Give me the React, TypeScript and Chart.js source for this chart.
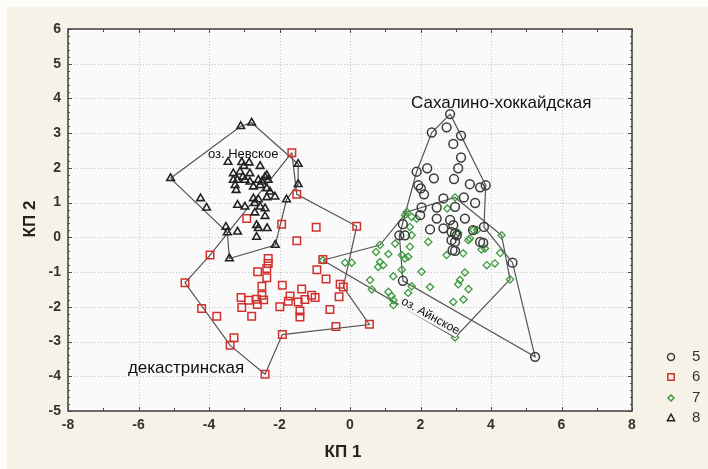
import React, { useEffect, useRef } from "react";
import { Chart, registerables } from "chart.js";

Chart.register(...registerables);

const FONT = "Arial, 'Liberation Sans', sans-serif";

// Group 5 (circles)
const group5: [number, number][] = [
  [2.84, 3.55], [2.74, 3.17], [2.32, 3.02], [3.15, 2.93], [2.93, 2.69], [3.15, 2.3],
  [1.89, 1.89], [2.19, 1.99], [3.07, 1.99], [2.38, 1.7], [2.95, 1.68], [1.94, 1.5],
  [2.01, 1.41], [3.4, 1.53], [3.69, 1.44], [3.85, 1.5], [2.1, 1.24], [2.65, 1.12],
  [3.23, 1.15], [3.55, 0.99], [2.03, 0.86], [2.46, 0.86], [2.98, 0.88], [1.99, 0.64],
  [2.46, 0.54], [2.84, 0.5], [3.26, 0.54], [1.5, 0.38], [2.27, 0.23], [2.65, 0.26],
  [2.93, 0.35], [2.88, 0.16], [2.98, 0.11], [3.8, 0.3], [1.4, 0.06], [1.56, 0.06],
  [2.88, -0.08], [2.98, -0.13], [3.69, -0.13], [3.78, -0.16], [2.91, -0.37], [2.98, -0.39],
  [3.49, 0.21], [3.03, 0.06], [4.61, -0.73], [1.5, -1.25], [5.25, -3.44],
];

// Group 6 (red squares)
const group6: [number, number][] = [
  [-1.65, 2.44], [-1.51, 1.24], [-2.93, 0.54], [-1.94, 0.38], [-0.96, 0.29], [0.19, 0.32],
  [-1.51, -0.1], [-3.97, -0.51], [-2.32, -0.61], [-2.32, -0.75], [-0.77, -0.64], [-0.94, -0.93],
  [-2.36, -0.9], [-2.62, -0.99], [-4.68, -1.31], [-2.36, -1.16], [-0.68, -1.2], [-1.92, -1.38],
  [-0.28, -1.35], [-0.19, -1.43], [-2.5, -1.41], [-1.37, -1.49], [-3.09, -1.73], [-2.88, -1.81],
  [-2.65, -1.78], [-2.5, -1.67], [-2.45, -1.8], [-1.7, -1.69], [-1.75, -1.84], [-1.47, -1.86],
  [-1.28, -1.79], [-1.09, -1.67], [-0.99, -1.73], [-0.31, -1.71], [-3.07, -2.02], [-2.63, -1.93],
  [-1.99, -2.0], [-1.42, -2.12], [-1.42, -2.29], [-0.57, -2.08], [-4.21, -2.05], [-3.78, -2.27],
  [-2.79, -2.27], [-0.4, -2.57], [0.55, -2.5], [-1.92, -2.8], [-3.29, -2.89], [-3.4, -3.11],
  [-2.41, -3.94],
];

// Group 7 (green diamonds)
const group7: [number, number][] = [
  [1.61, 0.73], [1.56, 0.64], [1.75, 0.59], [2.98, 1.15], [2.76, 0.83], [1.89, 0.54],
  [1.7, 0.3], [1.75, 0.06], [1.28, -0.18], [0.85, -0.22], [0.74, -0.42], [1.09, -0.48],
  [1.47, -0.51], [1.65, -0.56], [2.22, -0.13], [3.36, -0.08], [3.5, 0.21], [3.61, 0.21],
  [3.83, -0.32], [4.3, 0.06], [3.21, -0.46], [2.74, -0.51], [3.07, 0.13], [1.7, -0.27],
  [1.56, -0.61], [-0.14, -0.73], [0.05, -0.73], [0.85, -0.71], [0.94, -0.8], [0.8, -0.85],
  [1.47, -0.93], [1.23, -1.12], [2.03, -0.99], [0.57, -1.23], [0.62, -1.5], [1.09, -1.57],
  [1.18, -1.69], [1.23, -1.81], [1.23, -1.95], [1.65, -1.6], [1.75, -1.41], [2.27, -1.43],
  [3.26, -1.01], [3.12, -1.23], [3.07, -1.35], [3.36, -1.49], [3.22, -1.79], [2.93, -1.86],
  [2.98, -2.88], [3.88, -0.8], [4.11, -0.75], [4.26, -0.45], [4.54, -1.21], [3.4, -0.03],
  [3.73, -0.35], [-0.77, -0.66],
];

// Group 8 (triangles)
const group8: [number, number][] = [
  [-3.1, 3.2], [-2.79, 3.3], [-5.09, 1.7], [-3.46, 2.17], [-3.07, 2.16], [-2.86, 2.15],
  [-3.01, 2.05], [-2.55, 2.05], [-1.47, 2.11], [-3.31, 1.84], [-3.12, 1.89], [-2.84, 1.84],
  [-3.04, 1.74], [-2.41, 1.74], [-2.36, 1.79], [-3.31, 1.65], [-3.2, 1.65], [-2.98, 1.65],
  [-2.84, 1.6], [-2.6, 1.65], [-2.5, 1.6], [-2.32, 1.65], [-1.47, 1.53], [-3.26, 1.5],
  [-3.23, 1.36], [-2.74, 1.46], [-2.55, 1.5], [-2.36, 1.41], [-2.27, 1.31], [-4.24, 1.12],
  [-4.07, 0.85], [-3.19, 0.93], [-2.98, 0.88], [-2.74, 1.12], [-2.6, 1.09], [-2.36, 1.15],
  [-2.13, 1.17], [-1.8, 1.09], [-2.7, 0.98], [-2.55, 0.88], [-2.7, 0.71], [-2.41, 0.83],
  [-2.41, 0.61], [-3.52, 0.3], [-3.48, 0.14], [-3.19, 0.16], [-2.65, 0.35], [-2.6, 0.26],
  [-2.35, 0.26], [-2.65, 0.01], [-2.12, -0.22], [-3.42, -0.61],
];

// Outline polygons of the regional groups
const hullSakhalin: [number, number][] = [
  [2.84, 3.55], [3.15, 2.93], [3.85, 1.5], [3.8, 0.3], [4.61, -0.73], [5.25, -3.44],
  [1.5, -1.25], [1.4, 0.06], [1.89, 1.89], [2.32, 3.02], [2.84, 3.55],
];
const hullDekastri: [number, number][] = [
  [-1.65, 2.44], [-1.51, 1.24], [0.19, 0.32], [-0.19, -1.43], [0.55, -2.51], [-1.92, -2.8],
  [-2.41, -3.94], [-3.4, -3.11], [-4.68, -1.31], [-3.97, -0.51], [-1.65, 2.44],
];
const hullNevskoe: [number, number][] = [
  [-5.09, 1.7], [-3.1, 3.2], [-2.79, 3.3], [-1.47, 2.11], [-1.47, 1.53], [-1.8, 1.09],
  [-2.12, -0.22], [-3.42, -0.61], [-3.48, 0.14], [-5.09, 1.7],
];
const hullAinskoe: [number, number][] = [
  [-0.77, -0.66], [0.85, -0.22], [1.61, 0.73], [2.98, 1.15], [4.3, 0.06], [4.54, -1.21],
  [2.98, -2.88], [-0.77, -0.66],
];

const legendLabels = ["5", "6", "7", "8"];
const xAxisTitle = "КП 1";
const yAxisTitle = "КП 2";

// Region label text with anchor in data units
const regionText = ["Сахалино-хоккайдская", "оз. Невское", "декастринская", "оз. Айнское"];
const regionAnchorX = [1.73, -4.03, -6.3, 2.28];
const regionAnchorY = [3.86, 2.4, -3.77, -2.27];

const toXY = (arr: [number, number][]) => arr.map(([x, y]) => ({ x, y }));

function drawMarker(ctx: CanvasRenderingContext2D, kind: number, x: number, y: number, r: number) {
  ctx.beginPath();
  if (kind === 0) {
    ctx.arc(x, y, r, 0, Math.PI * 2);
  } else if (kind === 1) {
    ctx.rect(x - r, y - r, 2 * r, 2 * r);
  } else if (kind === 2) {
    ctx.moveTo(x, y - r);
    ctx.lineTo(x + r, y);
    ctx.lineTo(x, y + r);
    ctx.lineTo(x - r, y);
    ctx.closePath();
  } else {
    ctx.moveTo(x, y - r);
    ctx.lineTo(x + r * 0.95, y + r * 0.7);
    ctx.lineTo(x - r * 0.95, y + r * 0.7);
    ctx.closePath();
  }
  ctx.stroke();
}

const markerColors = ["#3a3a3a", "#d2302c", "#3f9a3f", "#222222"];

const decor = {
  id: "decor",
  beforeDraw(chart: any) {
    const { ctx, chartArea: a, width, height } = chart;
    ctx.save();
    ctx.fillStyle = "#fdfcf9";
    ctx.fillRect(0, 0, width, height);
    ctx.fillStyle = "#f6f2e8";
    ctx.fillRect(7, 7, width - 7, height - 7);
    ctx.fillStyle = "#fafafa";
    ctx.fillRect(a.left, a.top, a.right - a.left, a.bottom - a.top);
    const xs = chart.scales.x;
    const ys = chart.scales.y;
    ctx.strokeStyle = "#c4c4c4";
    ctx.lineWidth = 1;
    ctx.setLineDash([1, 2]);
    xs.ticks.forEach((t: any) => {
      const p = Math.round(xs.getPixelForValue(t.value)) + 0.5;
      ctx.beginPath();
      ctx.moveTo(p, a.top);
      ctx.lineTo(p, a.bottom);
      ctx.stroke();
    });
    ys.ticks.forEach((t: any) => {
      const p = Math.round(ys.getPixelForValue(t.value)) + 0.5;
      ctx.beginPath();
      ctx.moveTo(a.left, p);
      ctx.lineTo(a.right, p);
      ctx.stroke();
    });
    ctx.restore();
  },
  afterDatasetsDraw(chart: any) {
    const { ctx, chartArea: a } = chart;
    const xs = chart.scales.x;
    const ys = chart.scales.y;
    ctx.save();
    // frame
    ctx.strokeStyle = "#4a4a4a";
    ctx.lineWidth = 1.6;
    ctx.strokeRect(a.left, a.top, a.right - a.left, a.bottom - a.top);
    // tick marks (inside)
    ctx.lineWidth = 1;
    ctx.strokeStyle = "#4a4a4a";
    for (let v = xs.min; v <= xs.max + 1e-9; v += 1) {
      const p = Math.round(xs.getPixelForValue(v)) + 0.5;
      const len = Math.abs(v % 2) < 1e-9 ? 4 : 3;
      ctx.beginPath();
      ctx.moveTo(p, a.bottom);
      ctx.lineTo(p, a.bottom - len);
      ctx.moveTo(p, a.top);
      ctx.lineTo(p, a.top + len);
      ctx.stroke();
    }
    for (let i = 0; i <= (ys.max - ys.min) * 5; i++) {
      const v = ys.min + i * 0.2;
      const p = Math.round(ys.getPixelForValue(v)) + 0.5;
      const len = i % 5 === 0 ? 4 : 2;
      ctx.beginPath();
      ctx.moveTo(a.left, p);
      ctx.lineTo(a.left + len, p);
      ctx.moveTo(a.right, p);
      ctx.lineTo(a.right - len, p);
      ctx.stroke();
    }
    // region labels
    ctx.fillStyle = "#111";
    ctx.textBaseline = "middle";
    const sizes = [17, 13, 17, 12];
    regionText.forEach((txt, i) => {
      const px = xs.getPixelForValue(regionAnchorX[i]);
      const py = ys.getPixelForValue(regionAnchorY[i]);
      ctx.font = `${sizes[i]}px ${FONT}`;
      if (i === 3) {
        ctx.save();
        ctx.translate(px, py);
        ctx.rotate((29 * Math.PI) / 180);
        ctx.textAlign = "center";
        ctx.fillStyle = "#f7f7f7";
        const w = ctx.measureText(txt).width;
        ctx.fillRect(-w / 2 - 1, -6, w + 1, 12);
        ctx.fillStyle = "#111";
        ctx.fillText(txt, 0, 0);
        ctx.restore();
      } else {
        ctx.textAlign = "left";
        ctx.fillText(txt, px, py);
      }
    });
    // axis titles
    ctx.fillStyle = "#222";
    ctx.font = `bold 17px ${FONT}`;
    ctx.textAlign = "center";
    ctx.fillText(xAxisTitle, 343, 452);
    ctx.save();
    ctx.translate(30, 219);
    ctx.rotate(-Math.PI / 2);
    ctx.fillText(yAxisTitle, 0, 0);
    ctx.restore();
    // legend
    const rows = [357, 377, 398, 418];
    const legSizes = [3.5, 3.2, 3, 3.8];
    legendLabels.forEach((lab, i) => {
      ctx.strokeStyle = markerColors[i];
      ctx.lineWidth = 1.5;
      drawMarker(ctx, i, 671, rows[i], legSizes[i]);
      ctx.fillStyle = "#333";
      ctx.font = `15px ${FONT}`;
      ctx.textAlign = "left";
      ctx.fillText(lab, 692, rows[i]);
    });
    ctx.restore();
  },
};

export default function App() {
  const ref = useRef<HTMLCanvasElement | null>(null);
  useEffect(() => {
    document.body.style.margin = "0";
    const canvas = ref.current;
    if (!canvas) return;
    const hullStyle = {
      showLine: true,
      borderColor: "#555",
      borderWidth: 1.2,
      pointRadius: 0,
      fill: false,
      order: 10,
    };
    const chart = new Chart(canvas, {
      type: "scatter",
      data: {
        datasets: [
          { ...hullStyle, data: toXY(hullSakhalin) },
          { ...hullStyle, data: toXY(hullDekastri) },
          { ...hullStyle, data: toXY(hullNevskoe) },
          { ...hullStyle, data: toXY(hullAinskoe) },
          {
            data: toXY(group7),
            pointStyle: "rectRot",
            pointRadius: 3.6,
            borderColor: markerColors[2],
            backgroundColor: "rgba(0,0,0,0)",
            borderWidth: 1.3,
            order: 5,
          },
          {
            data: toXY(group6),
            pointStyle: "rect",
            pointRadius: 5.3,
            borderColor: markerColors[1],
            backgroundColor: "rgba(0,0,0,0)",
            borderWidth: 1.5,
            order: 4,
          },
          {
            data: toXY(group8),
            pointStyle: "triangle",
            pointRadius: 4.4,
            borderColor: markerColors[3],
            backgroundColor: "rgba(0,0,0,0)",
            borderWidth: 1.6,
            order: 3,
          },
          {
            data: toXY(group5),
            pointStyle: "circle",
            pointRadius: 4.4,
            borderColor: markerColors[0],
            backgroundColor: "rgba(0,0,0,0)",
            borderWidth: 1.5,
            order: 2,
          },
        ],
      },
      options: {
        animation: false,
        responsive: false,
        devicePixelRatio: 1,
        layout: { padding: { left: 0, top: 29, right: 76, bottom: 0 } },
        plugins: { legend: { display: false }, tooltip: { enabled: false } },
        scales: {
          x: {
            type: "linear",
            min: -8,
            max: 8,
            grid: { display: false, drawTicks: false },
            border: { display: false },
            ticks: {
              stepSize: 2,
              padding: 6,
              color: "#333",
              font: { family: FONT, size: 14, weight: "bold" },
            },
            afterFit: (s: any) => {
              s.height = 58;
            },
          },
          y: {
            type: "linear",
            min: -5,
            max: 6,
            grid: { display: false, drawTicks: false },
            border: { display: false },
            ticks: {
              stepSize: 1,
              padding: 7,
              color: "#333",
              font: { family: FONT, size: 14, weight: "bold" },
            },
            afterFit: (s: any) => {
              s.width = 68;
            },
          },
        },
      },
      plugins: [decor],
    });
    return () => chart.destroy();
  }, []);
  return <canvas ref={ref} width={708} height={469} style={{ display: "block" }} />;
}
